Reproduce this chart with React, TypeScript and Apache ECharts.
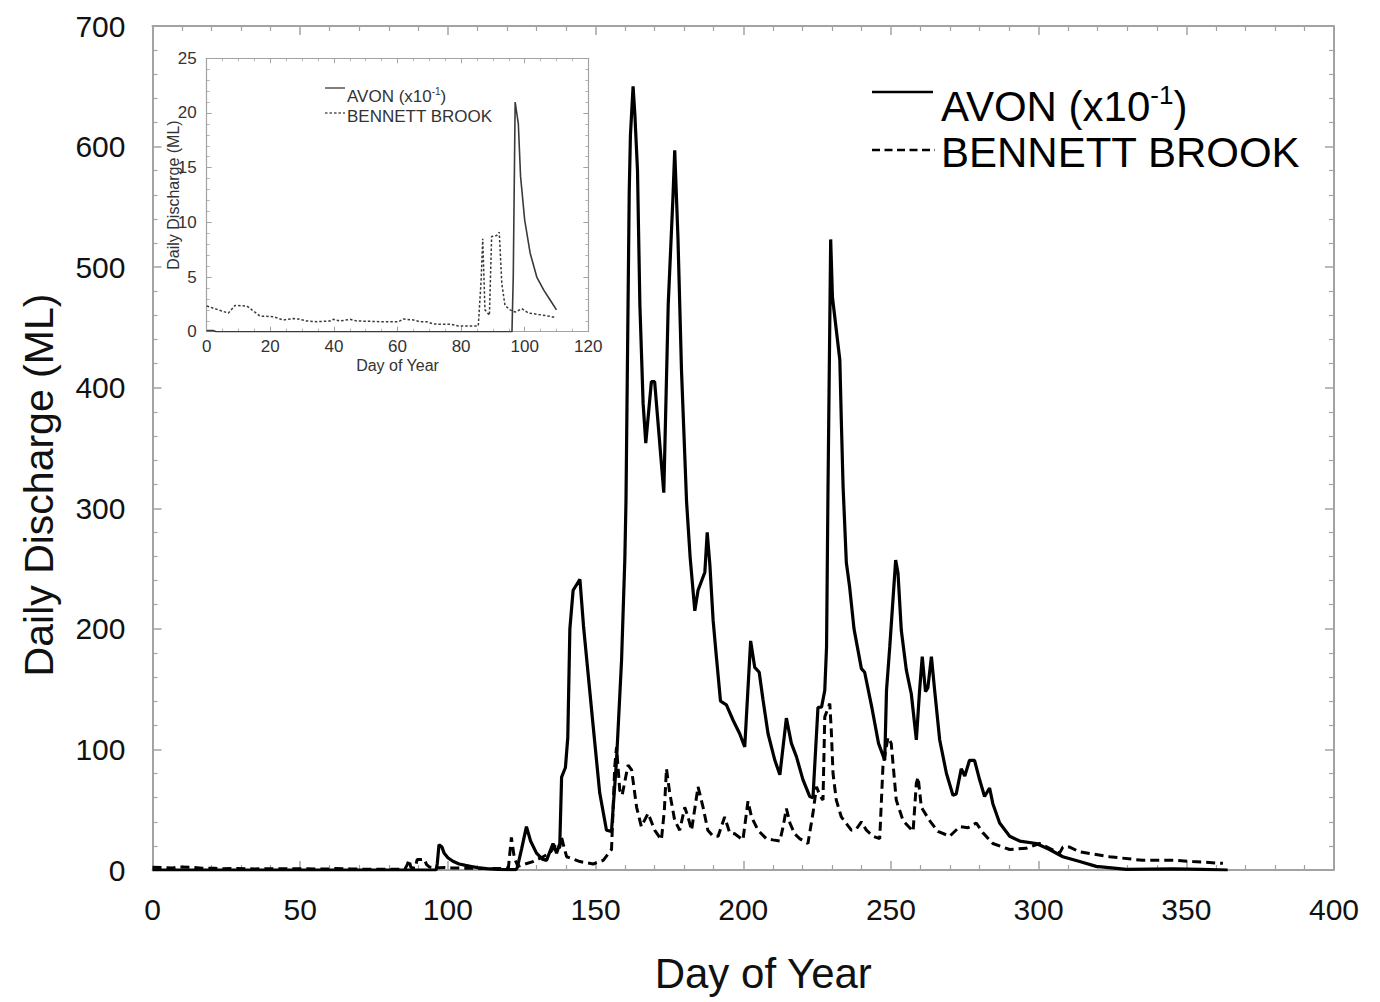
import React, { useEffect, useRef } from "react";
import * as echarts from "echarts";

// ---- Data (day of year, discharge) ----
// AVON (x10^-1) days 0-110 (also shown in inset)
const avonEarly: [number, number][] = [
  [0, 0.1], [2, 0.1], [3, 0], [96, 0], [96.4, 5], [97, 21], [98, 19], [98.7, 14.2],
  [100, 10.2], [101.7, 7.2], [103.8, 5], [106, 3.8], [108, 2.9], [110, 2],
];
// AVON (x10^-1) after day 110
const avonLate: [number, number][] = [
  [113, 1.2], [117, 0.5], [123, 0.3], [123.5, 2], [125, 18], [126.6, 36], [128, 24], [130, 14],
  [132, 9], [133.4, 8], [135.6, 22], [136.8, 14], [137.9, 22], [138.5, 77], [139.8, 85],
  [140.6, 110], [141.3, 200], [142.4, 232], [144.7, 241], [145.9, 203], [146.4, 190],
  [149.2, 119], [151.4, 64], [153.7, 33], [155.4, 32], [157.1, 91], [158.8, 174], [159.9, 257],
  [160.3, 306], [161.4, 563], [161.8, 609], [162.7, 650], [163.3, 627], [164.2, 580], [165, 469],
  [166.1, 387], [167, 354], [168.9, 405], [170, 405], [173.1, 313], [174.6, 469], [176.2, 558],
  [176.8, 597], [177.9, 524], [179.1, 414], [180.8, 306], [182, 260], [183.6, 215], [184.7, 232],
  [187, 247], [187.8, 280], [188.7, 253], [189.8, 207], [190.9, 177], [192.3, 140], [194.3, 137],
  [196.6, 124], [198.8, 113], [200.5, 102], [202.5, 190], [203.9, 168], [205.4, 164], [206.7, 141],
  [208.4, 113], [210.7, 91], [212.4, 79], [214.6, 126], [216.3, 105], [218, 94], [220.2, 75],
  [222.5, 61], [223.6, 60], [225.3, 135], [226.5, 135], [227.6, 149], [228.2, 185], [228.7, 318],
  [229.6, 523], [230.2, 475], [232.7, 423], [233.2, 373], [233.8, 318], [234.9, 255], [236, 235],
  [237.5, 200], [240, 167], [241.1, 164], [243.6, 134], [245.8, 105], [247.9, 91], [248.5, 149],
  [249.6, 185], [251.6, 257], [252.4, 246], [253.5, 199], [255.2, 166], [256.9, 146], [258.6, 108],
  [259.7, 149], [260.6, 177], [261.7, 148], [262.5, 151], [263.7, 177], [264.8, 149], [266.5, 108],
  [268.8, 80], [271, 62], [272.1, 63], [273.8, 84], [275, 78], [276.6, 91], [278.3, 91], [280, 75],
  [281.7, 61], [283.4, 68], [284.5, 55], [286.8, 39], [290.2, 28], [293.6, 24], [299.2, 22],
  [303.7, 17], [308.2, 11], [313.9, 7], [319.5, 3], [329.7, 0.5], [345.5, 1], [355, 0.5], [364, 0],
];
// BENNETT BROOK days 0-110 (also shown in inset)
const bennettEarly: [number, number][] = [
  [0, 2.35], [6.8, 1.7], [8.9, 2.4], [12.6, 2.35], [14.2, 2.0], [16.8, 1.43], [21, 1.37],
  [24.1, 1.07], [27.3, 1.2], [28.8, 1.16], [31.4, 0.98], [34.6, 0.91], [38.8, 0.98], [39.8, 1.13],
  [41.9, 0.98], [45.1, 1.13], [47.2, 0.98], [55.6, 0.91], [60.3, 0.91], [61.8, 1.16], [65, 1.07],
  [67.1, 0.91], [69.2, 0.91], [71.3, 0.7], [77, 0.67], [79.1, 0.52], [85.4, 0.52], [86.3, 4.7],
  [86.8, 8.5], [87.5, 2.0], [88.9, 1.5], [89.6, 8.7], [91.2, 8.8], [92, 9.1], [92.8, 4.4],
  [93.8, 2.4], [95.4, 2.0], [97, 1.8], [99.1, 2.1], [101.2, 1.7], [103.8, 1.6], [108, 1.4],
  [109.5, 1.3],
];
// BENNETT BROOK after day 110
const bennettLate: [number, number][] = [
  [112, 1.2], [118, 1.2], [120.5, 2], [121.5, 27], [122.5, 10], [123.7, 3], [128.8, 7], [132.2, 11],
  [134.5, 14], [136.2, 20], [137, 22], [137.8, 18], [138.5, 27], [139, 22], [140.2, 11], [144.7, 7],
  [149.2, 5], [152.6, 8], [155.4, 17], [156.5, 86], [157.1, 102], [158.2, 66], [159, 62], [161, 87],
  [162.2, 83], [163.9, 52], [165.5, 36], [167.8, 47], [170, 33], [172.3, 25], [173.3, 50], [174, 84],
  [175.1, 64], [176.8, 41], [178.5, 33], [180.2, 52], [181.3, 44], [182.5, 33], [184.7, 69],
  [186.4, 52], [188, 33], [189.8, 28], [191.5, 28], [193.7, 44], [195.4, 31], [197.1, 30],
  [199.9, 25], [201.6, 57], [202.8, 44], [205, 33], [207.8, 26], [210, 25], [212.4, 24], [213.5, 36],
  [214.6, 51], [215.8, 39], [217.4, 30], [219.1, 26], [221.9, 22], [223.6, 47], [224.8, 69],
  [225.9, 62], [227, 58], [227.6, 127], [229.3, 138], [229.8, 116], [230.4, 80], [231.5, 58],
  [233.2, 44], [236.6, 33], [238.3, 34], [240, 40], [241.7, 33], [244, 28], [246.2, 26], [247.3, 86],
  [249, 110], [250.1, 105], [251.8, 58], [254.1, 41], [257.5, 32], [258.6, 72], [259.2, 77],
  [260.3, 52], [263.1, 41], [265.9, 32], [269.9, 28], [273.3, 36], [276.1, 35], [278.9, 39],
  [281.1, 31], [284.5, 22], [290.2, 17], [295.8, 18], [300.3, 22], [303.7, 18], [307.1, 14],
  [308.2, 19], [310.5, 19], [313.9, 15], [324, 11], [335.3, 8], [346.6, 8], [352.2, 7], [362.4, 5.5],
];

const mainXTicks = { min: 0, max: 400, interval: 50 };
const mainYTicks = { min: 0, max: 700, interval: 100 };
const insetXTicks = { min: 0, max: 120, interval: 20 };
const insetYTicks = { min: 0, max: 25, interval: 5 };

const FONT = "'Liberation Sans', Arial, Helvetica, sans-serif";
const FRAME = "#a3a3a3";

function frameAxis(
  grid: number,
  range: { min: number; max: number; interval: number },
  position: string,
  showLabel: boolean,
  minorSplit: number,
  size: "main" | "inset",
  extra: any = {}
) {
  const main = size === "main";
  return {
    gridIndex: grid,
    type: "value",
    min: range.min,
    max: range.max,
    interval: range.interval,
    position,
    axisLine: { show: true, onZero: false, lineStyle: { color: FRAME, width: main ? 2 : 1.2 } },
    axisTick: { show: true, inside: true, length: main ? 9 : 5, lineStyle: { color: FRAME, width: main ? 1.5 : 1 } },
    minorTick: { show: true, splitNumber: minorSplit, length: main ? 5 : 3, lineStyle: { color: FRAME, width: main ? 1.2 : 0.8 } },
    splitLine: { show: false },
    minorSplitLine: { show: false },
    axisLabel: {
      show: showLabel,
      fontSize: main ? 30 : 17,
      color: main ? "#111" : "#333",
      fontFamily: FONT,
      margin: main ? 24 : 6,
    },
    ...extra,
  };
}

export default function App() {
  const ref = useRef<HTMLDivElement>(null);
  useEffect(() => {
    if (!ref.current) return;
    const chart = echarts.init(ref.current, null, { renderer: "svg" });
    const avonAll = [...avonEarly, ...avonLate];
    const bennettAll = [...bennettEarly, ...bennettLate];
    const option: any = {
      animation: false,
      backgroundColor: "#fff",
      textStyle: { fontFamily: FONT },
      grid: [
        { left: 152.5, top: 26, width: 1181.5, height: 844 },
        { left: 206.7, top: 58.3, width: 381.6, height: 273.4 },
      ],
      xAxis: [
        frameAxis(0, mainXTicks, "bottom", true, 5, "main", {
          name: "Day of Year",
          nameLocation: "middle",
          nameGap: 82,
          nameTextStyle: { fontSize: 42, color: "#111", fontFamily: FONT, padding: [0, 0, 0, 40] },
        }),
        frameAxis(0, mainXTicks, "top", false, 5, "main"),
        frameAxis(1, insetXTicks, "bottom", true, 4, "inset", {
          name: "Day of Year",
          nameLocation: "middle",
          nameGap: 26,
          nameTextStyle: { fontSize: 16, color: "#333", fontFamily: FONT },
        }),
        frameAxis(1, insetXTicks, "top", false, 4, "inset"),
      ],
      yAxis: [
        frameAxis(0, mainYTicks, "left", true, 5, "main", {
          axisLabel: { show: true, fontSize: 30, color: "#111", fontFamily: FONT, margin: 27 },
          name: "Daily Discharge (ML)",
          nameLocation: "middle",
          nameGap: 93,
          nameTextStyle: { fontSize: 41, color: "#111", fontFamily: FONT, padding: [0, 74, 0, 0] },
        }),
        frameAxis(0, mainYTicks, "right", false, 5, "main"),
        frameAxis(1, insetYTicks, "left", true, 5, "inset", {
          axisLabel: { show: true, fontSize: 17, color: "#333", fontFamily: FONT, margin: 10 },
          name: "Daily Discharge (ML)",
          nameLocation: "middle",
          nameGap: 25,
          nameMoveOverlap: false,
          nameTextStyle: { fontSize: 16, color: "#333", fontFamily: FONT },
        }),
        frameAxis(1, insetYTicks, "right", false, 5, "inset"),
      ],
      series: [
        {
          name: "AVON (x10-1)",
          type: "line",
          xAxisIndex: 0,
          yAxisIndex: 0,
          data: avonAll,
          symbol: "none",
          lineStyle: { color: "#000", width: 3.2 },
          z: 3,
        },
        {
          name: "BENNETT BROOK",
          type: "line",
          xAxisIndex: 0,
          yAxisIndex: 0,
          data: bennettAll,
          symbol: "none",
          lineStyle: { color: "#000", width: 3, type: [9, 5] },
          z: 4,
        },
        {
          name: "AVON inset",
          type: "line",
          xAxisIndex: 2,
          yAxisIndex: 2,
          data: avonEarly,
          symbol: "none",
          lineStyle: { color: "#3a3a3a", width: 1.6 },
        },
        {
          name: "BENNETT inset",
          type: "line",
          xAxisIndex: 2,
          yAxisIndex: 2,
          data: bennettEarly,
          symbol: "none",
          lineStyle: { color: "#3a3a3a", width: 1.5, type: [2.5, 2] },
        },
      ],
      graphic: [
        { type: "line", shape: { x1: 872, y1: 92, x2: 933, y2: 92 }, style: { stroke: "#000", lineWidth: 2.5 } },
        {
          type: "text",
          x: 941,
          y: 106,
          style: {
            text: "{a|AVON (x10}{s|-1}{a|)}",
            verticalAlign: "middle",
            rich: {
              a: { fontSize: 42, fontFamily: FONT, fill: "#000", lineHeight: 48 },
              s: { fontSize: 26, fontFamily: FONT, fill: "#000", verticalAlign: "top", lineHeight: 48 },
            },
          },
        },
        { type: "line", shape: { x1: 872, y1: 150, x2: 935, y2: 150 }, style: { stroke: "#000", lineWidth: 2.5, lineDash: [8, 4.5] } },
        {
          type: "text",
          x: 941,
          y: 152,
          style: { text: "BENNETT BROOK", verticalAlign: "middle", fontSize: 42, fontFamily: FONT, fill: "#000" },
        },
        { type: "line", shape: { x1: 325, y1: 88, x2: 345, y2: 88 }, style: { stroke: "#555", lineWidth: 1.5 } },
        {
          type: "text",
          x: 347,
          y: 96,
          style: {
            text: "{a|AVON (x10}{s|-1}{a|)}",
            verticalAlign: "middle",
            rich: {
              a: { fontSize: 17, fontFamily: FONT, fill: "#333", lineHeight: 20 },
              s: { fontSize: 10, fontFamily: FONT, fill: "#333", verticalAlign: "top", lineHeight: 20 },
            },
          },
        },
        { type: "line", shape: { x1: 325, y1: 113, x2: 345, y2: 113 }, style: { stroke: "#555", lineWidth: 1.3, lineDash: [2.5, 2] } },
        {
          type: "text",
          x: 347,
          y: 116,
          style: { text: "BENNETT BROOK", verticalAlign: "middle", fontSize: 17, fontFamily: FONT, fill: "#333" },
        },
      ],
    };
    chart.setOption(option);
    return () => chart.dispose();
  }, []);
  return (
    <div
      ref={ref}
      style={{ position: "fixed", left: 0, top: 0, width: 1380, height: 1002, background: "#fff" }}
    />
  );
}
